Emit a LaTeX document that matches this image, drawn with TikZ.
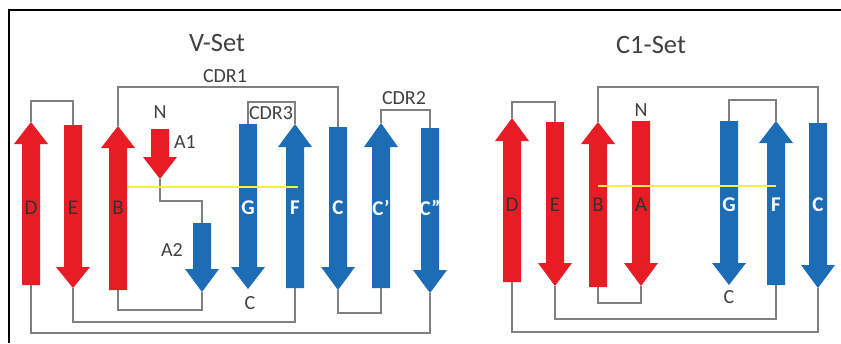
\documentclass[tikz,border=0pt]{standalone}
\usepackage{fontspec}
\setmainfont{Carlito}
\definecolor{sred}{RGB}{232,28,36}
\definecolor{sblue}{RGB}{28,108,182}
\definecolor{loopgray}{RGB}{128,128,128}
\definecolor{txtgray}{RGB}{64,64,64}
\definecolor{hbond}{RGB}{250,236,70}
\newcommand\sarrow[9]{%
  \fill[#2] (#3-9,#4) -- (#3-9,#5) -- (#3-17,#5) -- (#3,#6) -- (#3+17,#5) -- (#3+9,#5) -- (#3+9,#4) -- cycle;
  \coordinate (#1-tail) at (#3,#4);
  \coordinate (#1-tip) at (#3,#6);
  \node[#8] (#1-lab) at (#3,#7) {#9};}
\begin{document}
\begin{tikzpicture}[x=1pt,y=-1pt,
  loop/.style={draw=loopgray,line width=1.2pt},
  darklab/.style={text=black!80,font=\fontsize{21}{21}\selectfont,inner sep=0pt},
  whitelab/.style={text=white,font=\bfseries\fontsize{21}{21}\selectfont,inner sep=0pt},
  nolab/.style={inner sep=0pt},
  title/.style={text=txtgray,font=\fontsize{26.5}{26.5}\selectfont,inner sep=0pt},
  small/.style={text=txtgray,font=\fontsize{20}{20}\selectfont,inner sep=0pt}]
\useasboundingbox (0,0) rectangle (841,343);
\fill[white] (0,0) rectangle (841,343);
% frame
\coordinate (fr-top) at (841,10);
\coordinate (fr-corner) at (9,10);
\coordinate (fr-bot) at (9,343);
\draw[line width=2pt,black] (fr-top) -- (fr-corner) -- (fr-bot);

% ---------- V-set connectors ----------
\coordinate (vD-tip) at (31,122);   \coordinate (vD-tail) at (31,285);
\coordinate (vE-tip) at (73,288);   \coordinate (vE-tail) at (73,125);
\coordinate (vB-tip) at (118,126);  \coordinate (vB-tail) at (118,290);
\coordinate (vA1-tip) at (160,179); \coordinate (vA2-tail) at (202,223);
\coordinate (vA2-tip) at (202,292);
\coordinate (vG-tail) at (248,124); \coordinate (vF-tip) at (295,124);
\coordinate (vF-tail) at (295,288);
\coordinate (vC-tail) at (338,127); \coordinate (vC-tip) at (338,290);
\coordinate (vCp-tip) at (381,123); \coordinate (vCp-tail) at (381,288);
\coordinate (vCpp-tail) at (430,128); \coordinate (vCpp-tip) at (430,293);

\draw[loop] (vD-tip) -- (vD-tip |- 0,101) -| (vE-tail);
\draw[loop] (vB-tip) -- (vB-tip |- 0,87) -| (vC-tail);
\draw[loop] (vA1-tip) -- (vA1-tip |- 0,201) -| (vA2-tail);
\draw[loop] (vB-tail) -- (vB-tail |- 0,310) -| (vA2-tip);
\draw[loop] (vG-tail) -- (vG-tail |- 0,102) -| (vF-tip);
\draw[loop] (vC-tip) -- (vC-tip |- 0,313) -| (vCp-tail);
\draw[loop] (vCp-tip) -- (vCp-tip |- 0,110) -| (vCpp-tail);
\draw[loop] (vE-tip) -- (vE-tip |- 0,322) -| (vF-tail);
\draw[loop] (vD-tail) -- (vD-tail |- 0,333) -| (vCpp-tip);

% ---------- V-set strands ----------
\sarrow{vD}{sred}{31}{285}{144}{122}{208}{darklab}{D}
\sarrow{vE}{sred}{73}{125}{267}{288}{208}{darklab}{E}
\sarrow{vB}{sred}{118}{290}{148}{126}{208}{darklab}{B}
\sarrow{vA1}{sred}{160}{129}{157}{179}{142}{nolab}{}
\sarrow{vA2}{sblue}{202}{223}{269}{292}{250}{nolab}{}
\sarrow{vG}{sblue}{248}{124}{267}{289}{208}{whitelab}{G}
\sarrow{vF}{sblue}{295}{288}{147}{124}{208}{whitelab}{F}
\sarrow{vC}{sblue}{338}{127}{267}{290}{208}{whitelab}{C}
\sarrow{vCp}{sblue}{381}{288}{147}{123}{208}{whitelab}{C’}
\sarrow{vCpp}{sblue}{430}{128}{270}{293}{208}{whitelab}{C”}

% yellow line
\coordinate (vY1) at (127,187);
\coordinate (vY2) at (298,187);
\draw[hbond,line width=1.6pt] (vY1) -- (vY2);

% V-set labels
\node[title] (vtitle) at (217,43) {V-Set};
\node[small] (cdr1) at (225,76) {CDR1};
\node[small] (cdr3) at (271,113) {CDR3};
\node[small] (cdr2) at (404,98) {CDR2};
\node[small] (vN) at (160,112) {N};
\node[small] (vA1l) at (185,142) {A1};
\node[small] (vA2l) at (172,250) {A2};
\node[small] (vCt) at (250,303) {C};

% ---------- C1-set connectors ----------
\coordinate (cD-tip) at (512,118);  \coordinate (cD-tail) at (512,282);
\coordinate (cE-tail) at (555,122); \coordinate (cE-tip) at (555,286);
\coordinate (cB-tip) at (598,122);  \coordinate (cB-tail) at (598,287);
\coordinate (cA-tip) at (641,286);
\coordinate (cG-tail) at (729,121); \coordinate (cF-tip) at (776,121);
\coordinate (cF-tail) at (776,285);
\coordinate (cC-tail) at (818,123); \coordinate (cC-tip) at (818,288);

\draw[loop] (cD-tip) -- (cD-tip |- 0,102) -| (cE-tail);
\draw[loop] (cB-tip) -- (cB-tip |- 0,87) -| (cC-tail);
\draw[loop] (cB-tail) -- (cB-tail |- 0,303) -| (cA-tip);
\draw[loop] (cG-tail) -- (cG-tail |- 0,100) -| (cF-tip);
\draw[loop] (cE-tip) -- (cE-tip |- 0,319) -| (cF-tail);
\draw[loop] (cD-tail) -- (cD-tail |- 0,332) -| (cC-tip);

% ---------- C1-set strands ----------
\sarrow{cD}{sred}{512}{282}{141}{118}{205}{darklab}{D}
\sarrow{cE}{sred}{555}{122}{263}{286}{205}{darklab}{E}
\sarrow{cB}{sred}{598}{287}{144}{122}{205}{darklab}{B}
\sarrow{cA}{sred}{641}{121}{263}{286}{205}{darklab}{A}
\sarrow{cG}{sblue}{729}{121}{263}{285}{205}{whitelab}{G}
\sarrow{cF}{sblue}{776}{285}{143}{121}{205}{whitelab}{F}
\sarrow{cC}{sblue}{818}{123}{265}{288}{205}{whitelab}{C}

\coordinate (cY1) at (598,186);
\coordinate (cY2) at (776,186);
\draw[hbond,line width=1.6pt] (cY1) -- (cY2);

\node[title] (ctitle) at (651,45) {C1-Set};
\node[small] (cN) at (641,110) {N};
\node[small] (cCt) at (729,297) {C};
\end{tikzpicture}
\end{document}
